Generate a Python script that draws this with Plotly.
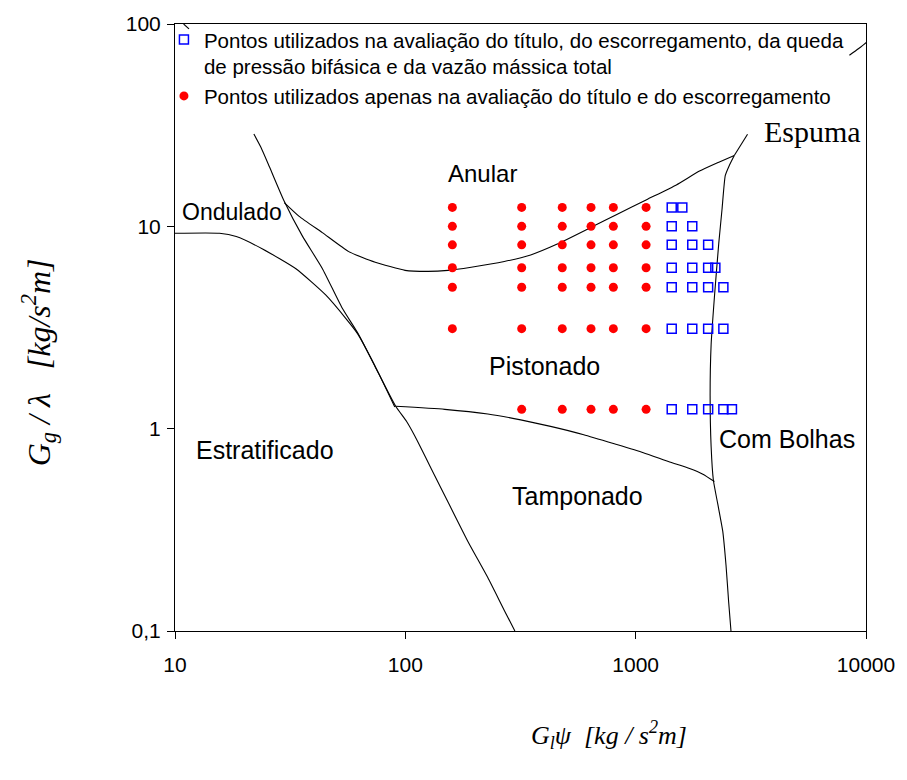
import plotly.graph_objects as go

# ---------------- data ----------------
# measurement grid (red: only quality & slip; blue: all quantities)
red_x_rows = [
    [160, 320, 480, 640, 800, 1110],
    [160, 320, 480, 640, 800, 1110],
    [160, 320, 480, 640, 800, 1110],
    [160, 320, 480, 640, 800, 1110],
    [160, 320, 480, 640, 800, 1110],
    [160, 320, 480, 640, 800, 1110],
    [320, 480, 640, 800, 1110],
]
blue_x_rows = [
    [1434, 1594],
    [1434, 1761],
    [1434, 1761, 2064],
    [1434, 1761, 2064, 2218],
    [1434, 1761, 2064, 2403],
    [1434, 1761, 2064, 2403],
    [1434, 1761, 2064, 2403, 2618],
]
row_y = [12.4, 10.0, 8.1, 6.24, 5.0, 3.12, 1.246]

# flow-pattern boundaries
steep_x = [22.0, 23.6, 25.7, 29.8, 35.7, 43.6, 53.1, 62.7, 74.0, 90.8, 101.3, 110.1, 129.9, 153.2, 186.9, 228, 269, 299]
steep_y = [28.6, 24.6, 19.7, 13.3, 8.97, 6.19, 3.96, 2.92, 2.02, 1.29, 1.085, 0.917, 0.631, 0.434, 0.277, 0.1837, 0.1264, 0.1]

wavy_x = [10, 15.6, 18.45, 24.0, 33.5, 45.1, 55.0, 62.0, 74.5, 90.0]
wavy_y = [9.24, 9.24, 8.90, 7.73, 6.17, 4.58, 3.52, 2.95, 2.0, 1.28]

annular_x = [29.8, 34.6, 43.6, 56.8, 74.0, 99.7, 125.6, 153.2, 193.1, 269, 350, 456.6, 657, 828, 1115, 1502, 1893, 2309, 2680]
annular_y = [13.1, 11.2, 9.31, 7.50, 6.65, 6.06, 5.99, 6.06, 6.28, 6.70, 7.22, 8.17, 10.03, 11.44, 13.54, 16.02, 18.75, 20.8, 22.4]

froth_x = [2680, 3060]
froth_y = [22.4, 28.5]

bubble_x = [2680, 2550, 2450, 2371, 2295, 2197, 2126, 2105, 2126, 2175, 2272, 2388, 2467, 2534, 2593]
bubble_y = [22.4, 20.0, 17.84, 12.14, 8.25, 4.46, 2.60, 1.458, 0.817, 0.556, 0.4245, 0.3114, 0.2118, 0.1388, 0.1]

slug_x = [90.8, 148.3, 228, 317, 427, 595, 828, 1080, 1405, 1714, 1958, 2197]
slug_y = [1.29, 1.246, 1.182, 1.105, 1.026, 0.934, 0.835, 0.761, 0.685, 0.636, 0.596, 0.548]

topleft_x = [10.9, 11.5]
topleft_y = [100, 94.5]

topright_x = [8472, 9265, 10070, 10700]
topright_y = [70.1, 75.5, 81.4, 88.0]

region_labels = ["Anular", "Ondulado", "Pistonado", "Estratificado", "Tamponado", "Com Bolhas"]
region_pos = [(0.4454, 0.753), (0.0075, 0.690), (0.5345, 0.437), (0.028, 0.299), (0.4855, 0.222), (0.7844, 0.316)]
region_size = [24, 23, 25, 25, 25, 25]

x_ticks = [10, 100, 1000, 10000]
x_ticktext = ["10", "100", "1000", "10000"]
y_ticks = [0.1, 1, 10, 100]
y_ticktext = ["0,1", "1", "10", "100"]

legend_blue = "Pontos utilizados na avaliação do título, do escorregamento, da queda<br>de pressão bifásica e da vazão mássica total"
legend_red = "Pontos utilizados apenas na avaliação do título e do escorregamento"

# ---------------- figure ----------------
fig = go.Figure()

smooth_style = dict(color="black", width=1.1, shape="spline", smoothing=0.5)
straight_style = dict(color="black", width=1.1)
for xs, ys, st in [(steep_x, steep_y, smooth_style), (wavy_x, wavy_y, smooth_style),
                   (annular_x, annular_y, smooth_style), (froth_x, froth_y, straight_style),
                   (bubble_x, bubble_y, smooth_style), (slug_x, slug_y, smooth_style),
                   (topleft_x, topleft_y, straight_style), (topright_x, topright_y, smooth_style)]:
    fig.add_trace(go.Scatter(x=xs, y=ys, mode="lines", line=st, showlegend=False, hoverinfo="skip"))

bx, by, rx, ry = [], [], [], []
for yv, xr in zip(row_y, blue_x_rows):
    bx += xr
    by += [yv] * len(xr)
for yv, xr in zip(row_y, red_x_rows):
    rx += xr
    ry += [yv] * len(xr)

fig.add_trace(go.Scatter(x=bx, y=by, mode="markers", name=legend_blue,
                         marker=dict(symbol="square-open", size=9, color="#0000FF", line=dict(width=1.5, color="#0000FF"))))
fig.add_trace(go.Scatter(x=rx, y=ry, mode="markers", name=legend_red,
                         marker=dict(symbol="circle", size=9, color="#FF0000")))

sans = "Liberation Sans, Arial, sans-serif"
serif = "Liberation Serif, Times New Roman, serif"

annotations = []
for txt, (px, py), fs in zip(region_labels, region_pos, region_size):
    annotations.append(dict(text=txt, x=px, y=py, xref="paper", yref="paper",
                            xanchor="left" if txt in ("Ondulado", "Estratificado", "Com Bolhas", "Tamponado") else "center",
                            yanchor="middle", showarrow=False, font=dict(family=sans, size=fs, color="black")))
annotations.append(dict(text="Espuma", x=0.849, y=0.8225, xref="paper", yref="paper", xanchor="left", yanchor="middle",
                        showarrow=False, font=dict(family=serif, size=30, color="black")))
annotations.append(dict(text="<i>G<sub>g</sub> / λ   [kg/s<sup>2</sup>m]</i>", x=-0.198, y=0.443, xref="paper", yref="paper",
                        textangle=-90, showarrow=False, xanchor="center", yanchor="middle",
                        font=dict(family=serif, size=32, color="black")))
annotations.append(dict(text="<i>G<sub>l</sub>ψ  [kg / s<sup>2</sup>m]</i>", x=0.628, y=-0.172, xref="paper", yref="paper",
                        showarrow=False, xanchor="center", yanchor="middle",
                        font=dict(family=serif, size=26, color="black")))

axis_common = dict(type="log", showgrid=False, zeroline=False, showline=True, linecolor="black", linewidth=1,
                   mirror=True, ticks="outside", ticklen=7, tickcolor="black", tickwidth=1,
                   tickfont=dict(family=sans, size=21, color="black"))

fig.update_layout(
    width=907, height=780,
    margin=dict(l=175, r=36, t=15, b=149),
    paper_bgcolor="white", plot_bgcolor="white",
    xaxis=dict(range=[1, 4], tickvals=x_ticks, ticktext=x_ticktext, ticklabelstandoff=8, **axis_common),
    yaxis=dict(range=[-1, 2], tickvals=y_ticks, ticktext=y_ticktext, ticklabelstandoff=2, **axis_common),
    legend=dict(x=-0.016, y=1.007, xanchor="left", yanchor="top", bgcolor="rgba(0,0,0,0)", borderwidth=0,
                valign="top", font=dict(family=sans, size=20.5, color="black"), tracegroupgap=0),
    annotations=annotations,
    showlegend=True,
)

fig.write_html("out.html")
